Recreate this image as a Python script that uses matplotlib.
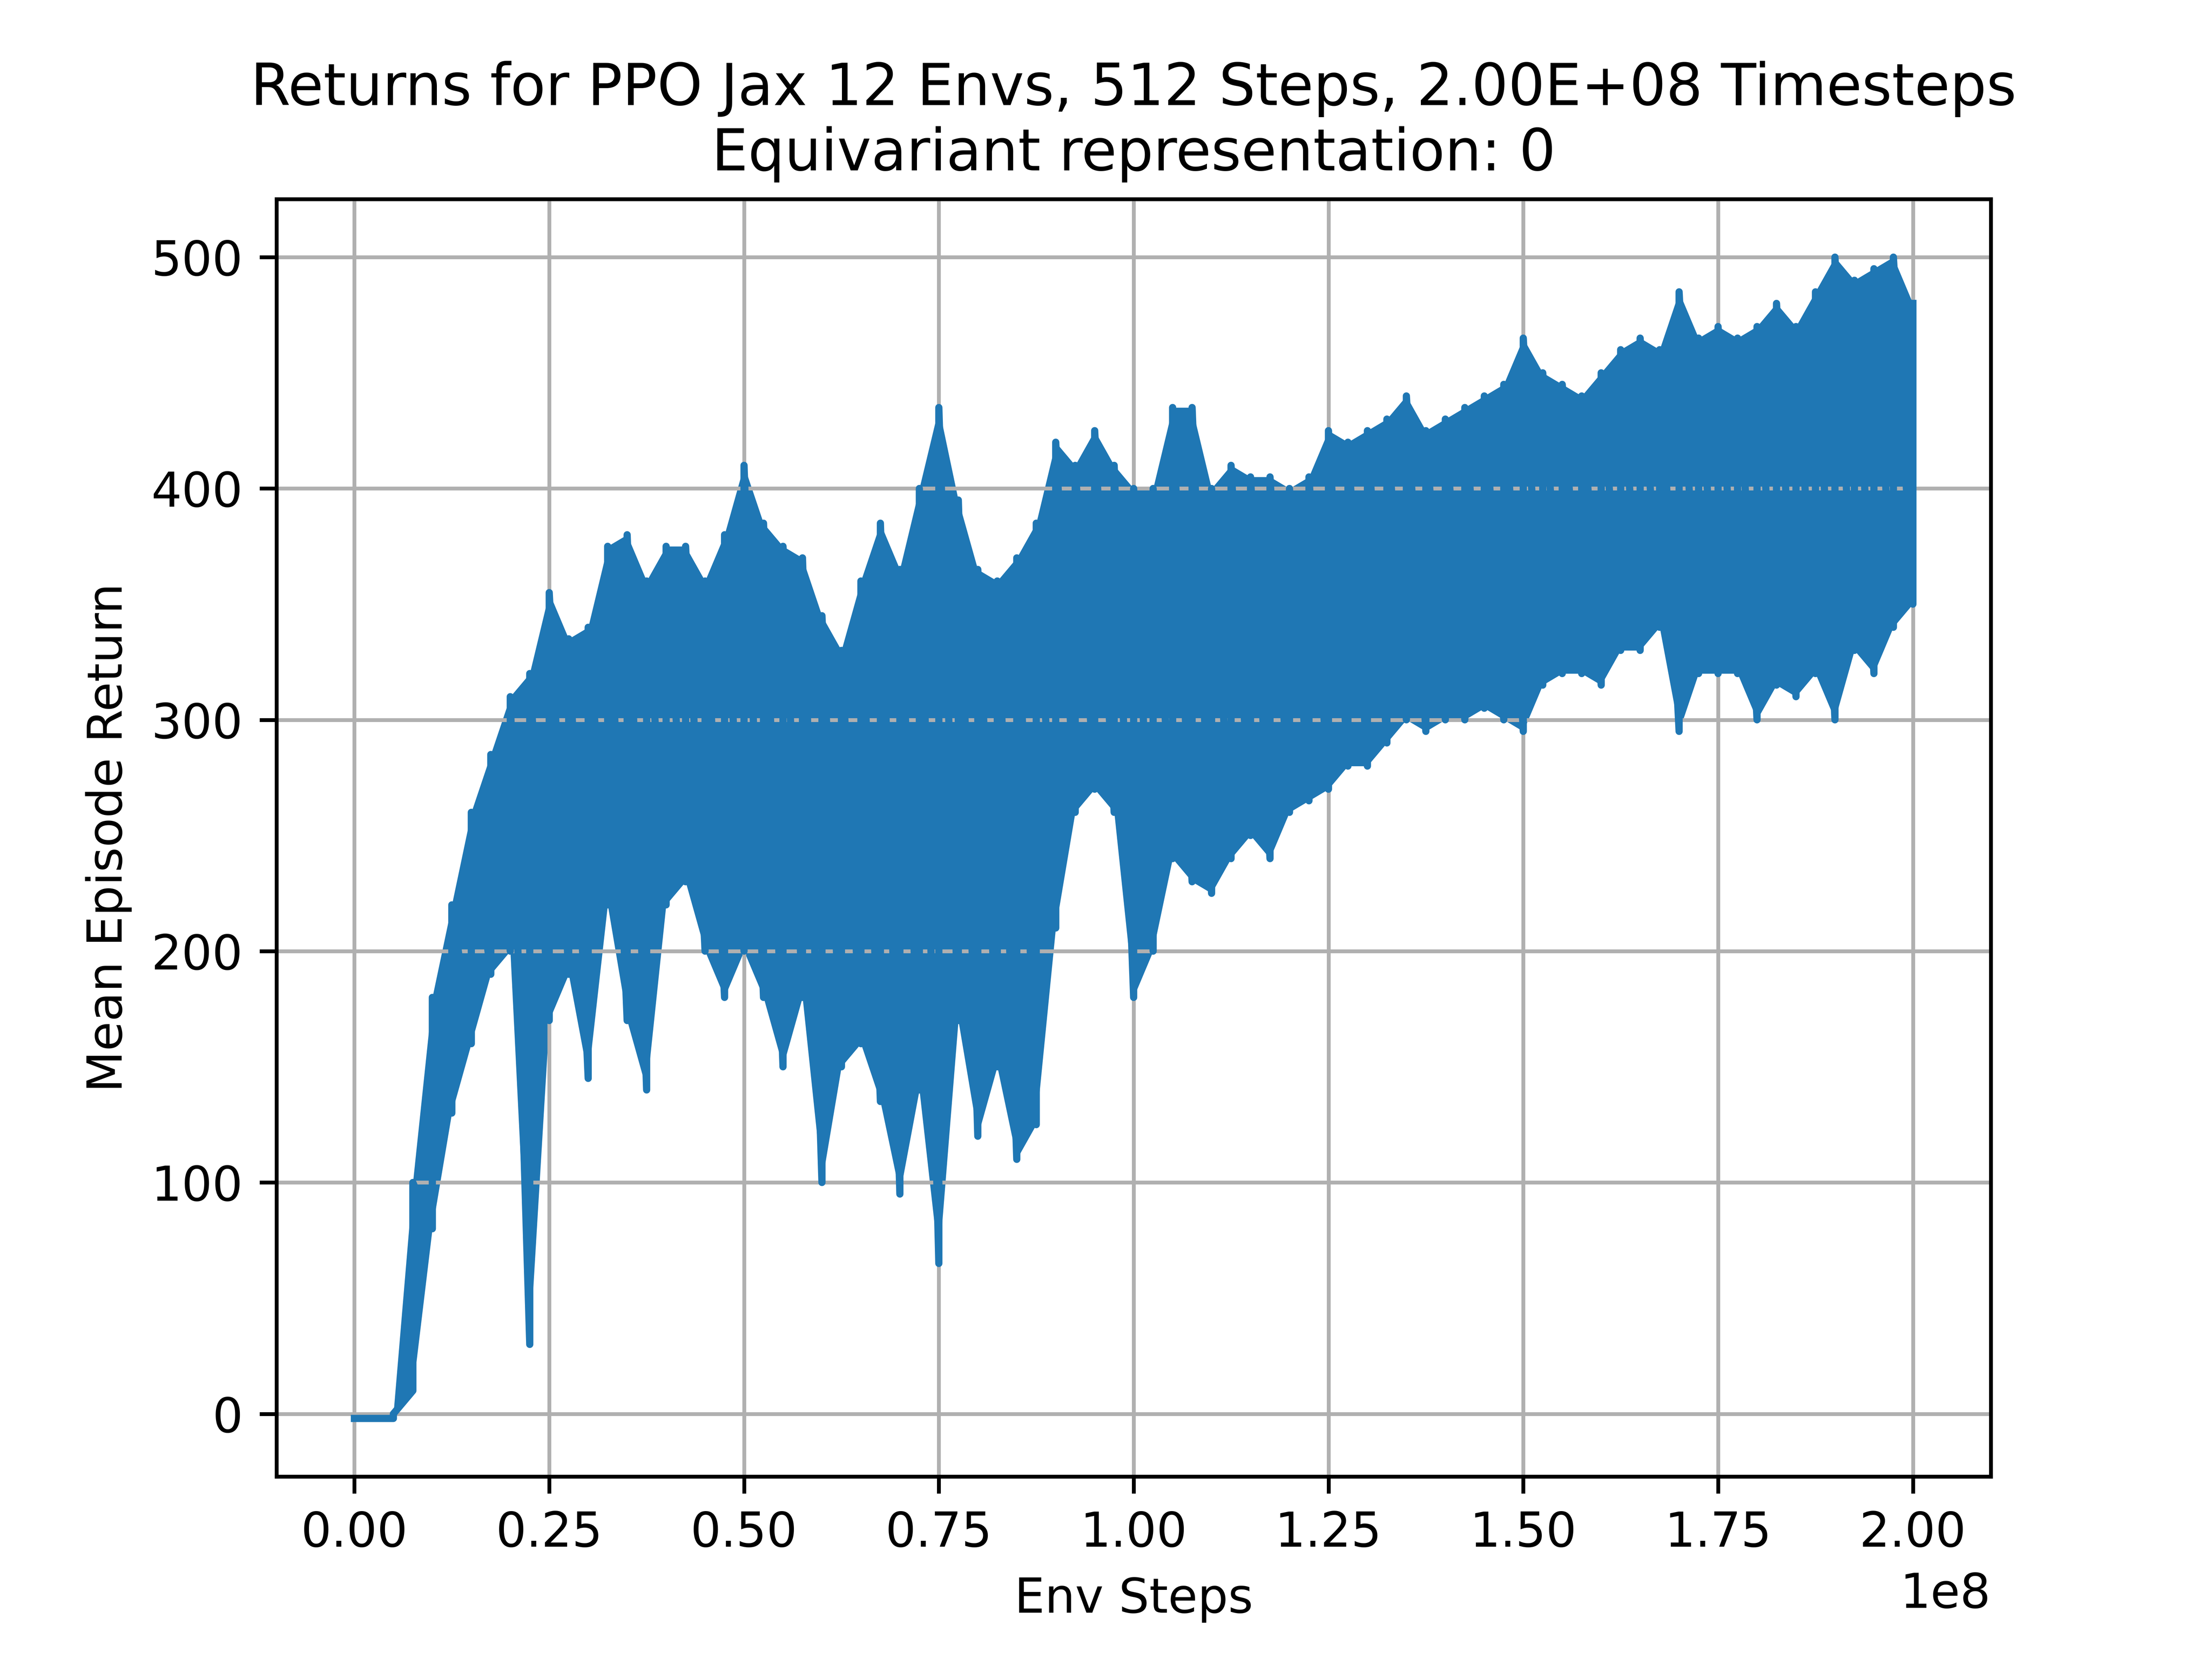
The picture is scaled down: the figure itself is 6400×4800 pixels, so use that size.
import numpy as np
import matplotlib.pyplot as plt

# env steps (x1e8), lower and upper envelope of the returns
steps = np.arange(0, 2.0001, 0.025) * 1e8
low = [-2, -2, -2, 10, 80, 130, 160, 190, 200, 30, 170, 190, 145, 220, 170, 140,
       220, 230, 200, 180, 200, 180, 150, 180, 100, 150, 160, 135, 95, 140, 65,
       170, 120, 150, 110, 125, 210, 260, 270, 260, 180, 200, 240, 230, 225, 240,
       250, 240, 260, 265, 270, 280, 280, 290, 300, 295, 300, 300, 305, 300, 295,
       315, 320, 320, 315, 330, 330, 340, 295, 320, 320, 320, 300, 315, 310, 320,
       300, 330, 320, 340, 350]
high = [-2, -2, 0, 100, 180, 220, 260, 285, 310, 320, 355, 335, 340, 375, 380,
        360, 375, 375, 360, 380, 410, 385, 375, 370, 345, 330, 360, 385, 365,
        400, 435, 395, 365, 360, 370, 385, 420, 410, 425, 410, 400, 400, 435,
        435, 400, 410, 405, 405, 400, 405, 425, 420, 425, 430, 440, 425, 430,
        435, 440, 445, 465, 450, 445, 440, 450, 460, 465, 460, 485, 465, 470,
        465, 470, 480, 470, 485, 500, 490, 495, 500, 480]

low = np.array(low, dtype=float)
high = np.array(high, dtype=float)

# zigzag between the envelope values
xs = np.repeat(steps, 2)
ys = np.column_stack([low, high]).ravel()

fig, ax = plt.subplots()
ax.fill_between(steps, low, high, color='tab:blue', lw=0)
ax.plot(xs, ys, color='tab:blue', lw=1.5)
ax.set_title('Returns for PPO Jax 12 Envs, 512 Steps, 2.00E+08 Timesteps\n'
             'Equivariant representation: 0')
ax.set_xlabel('Env Steps')
ax.set_ylabel('Mean Episode Return')
ax.grid(True)
fig.savefig('out.png', dpi=1000)
